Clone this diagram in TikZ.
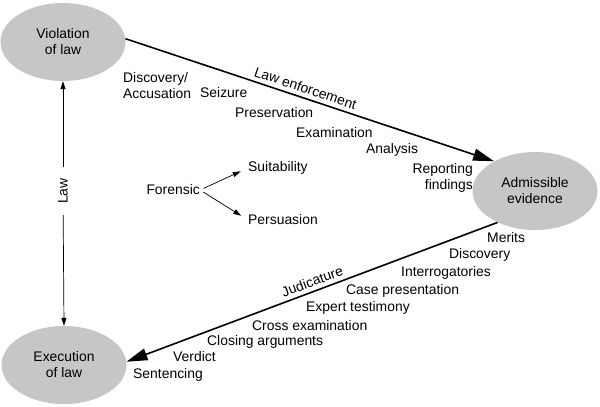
\documentclass[tikz,border=0pt]{standalone}
\usepackage{fontspec}
\setmainfont{Liberation Sans}
\usetikzlibrary{shapes.geometric,arrows.meta}
\begin{document}
\begin{tikzpicture}[x=1pt,y=-1pt,
  every node/.style={font=\fontsize{13.9}{16}\selectfont},
  oval/.style={ellipse, fill=gray!45, draw=none, minimum width=125pt, minimum height=78pt, inner sep=0pt, align=center},
  lbl/.style={inner sep=0pt, anchor=west},
  bigarrow/.style={line width=1.6pt, -{Triangle[length=21pt,width=12pt]}},
  thinarrow/.style={line width=0.7pt, -{Triangle[length=8pt,width=5pt]}}]
\useasboundingbox (0,0) rectangle (600,407);
\node[oval] (viol) at (63,42) {Violation\\of law};
\node[oval] (adm) at (535,191) {Admissible\\evidence};
\node[oval] (exec) at (64,365) {Execution\\of law};
% law axis
\node[rotate=90, inner xsep=11pt, inner ysep=2pt] (law) at (63,191) {Law};
\draw[thinarrow] (law) -- (viol.south);
\draw[thinarrow] (law) -- (exec.north);
% main arrows
\draw[bigarrow] (viol.3) -- node[pos=0.48, above=3pt, sloped, inner sep=1pt] (le) {Law enforcement} (adm.144);
\draw[bigarrow] (adm.220) -- node[pos=0.49, above=3pt, sloped, inner sep=1pt] (jud) {Judicature} (exec.3);
% upper labels
\node[lbl, align=left] (disc) at (123,86) {Discovery/\\Accusation};
\node[lbl] (seiz) at (200,93) {Seizure};
\node[lbl] (pres) at (235,113) {Preservation};
\node[lbl] (exam) at (296,133) {Examination};
\node[lbl] (anal) at (366,150) {Analysis};
\node[inner sep=0pt, anchor=east, align=right] (rep) at (473,178) {Reporting\\findings};
% forensic
\node[inner sep=0pt, anchor=east] (for) at (200,190) {Forensic};
\node[lbl] (suit) at (248,168) {Suitability};
\node[lbl] (pers) at (248,220) {Persuasion};
\draw[thinarrow, shorten <=4pt, shorten >=8pt] (for.east) -- (suit.west);
\draw[thinarrow, shorten <=4pt, shorten >=8pt] (for.east) -- (pers.west);
% lower labels
\node[lbl] (mer) at (487,238) {Merits};
\node[lbl] (disc2) at (449,255) {Discovery};
\node[lbl] (interr) at (401,273) {Interrogatories};
\node[lbl] (case) at (346,291) {Case presentation};
\node[lbl] (expt) at (306,308) {Expert testimony};
\node[lbl] (cross) at (252,326) {Cross examination};
\node[lbl] (clos) at (207,342) {Closing arguments};
\node[lbl] (verd) at (173,357) {Verdict};
\node[lbl] (sent) at (133,375) {Sentencing};
\end{tikzpicture}
\end{document}
